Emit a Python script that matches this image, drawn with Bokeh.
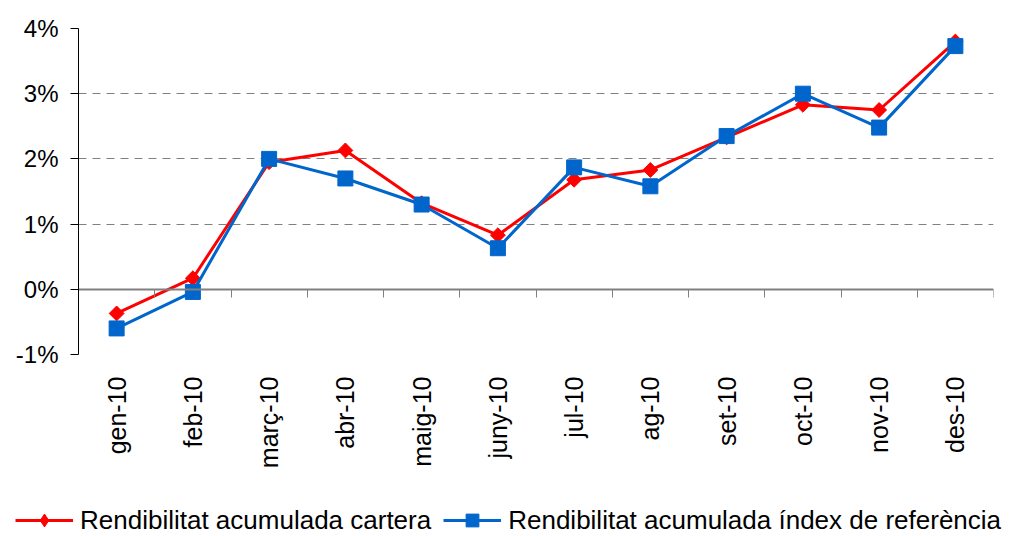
from math import pi
from bokeh.plotting import figure
from bokeh.layouts import column
from bokeh.models import (LinearAxis, FixedTicker, PrintfTickFormatter, Legend,
                          LegendItem)
from bokeh.embed import file_html
from bokeh.resources import INLINE

months = ["gen-10", "feb-10", "març-10", "abr-10", "maig-10", "juny-10",
          "jul-10", "ag-10", "set-10", "oct-10", "nov-10", "des-10"]
cartera = [-0.37, 0.17, 1.95, 2.13, 1.32, 0.83, 1.68, 1.83, 2.33, 2.83, 2.75, 3.80]
referencia = [-0.60, -0.04, 2.00, 1.70, 1.30, 0.63, 1.87, 1.58, 2.35, 3.00, 2.48, 3.73]
y_ticks = [-1, 0, 1, 2, 3, 4]
label_cartera = "Rendibilitat acumulada cartera"
label_ref = "Rendibilitat acumulada índex de referència"

n = len(months)
xs = [i + 0.5 for i in range(n)]
FONT = "Liberation Sans"
RED = "#FF0000"
BLUE = "#0066CC"

p = figure(frame_width=915, frame_height=326, x_range=(0, n),
           y_range=(min(y_ticks), max(y_ticks)),
           output_backend="svg", toolbar_location=None,
           x_axis_location=None,
           min_border_left=78, min_border_top=28, min_border_right=15,
           min_border_bottom=126)
p.outline_line_color = None
p.background_fill_color = "white"
p.xgrid.visible = False

# y axis
p.yaxis.ticker = FixedTicker(ticks=y_ticks)
p.yaxis.formatter = PrintfTickFormatter(format="%d%%")
p.yaxis.major_label_text_font = FONT
p.yaxis.major_label_text_font_size = "24px"
p.yaxis.major_label_text_color = "black"
p.yaxis.axis_line_color = "black"
p.yaxis.axis_line_width = 1
p.yaxis.major_tick_line_color = "black"
p.yaxis.major_tick_out = 8
p.yaxis.major_tick_in = 0
p.yaxis.minor_tick_line_color = None
p.yaxis.major_label_standoff = 12

p.ygrid.ticker = FixedTicker(ticks=y_ticks)
p.ygrid.grid_line_color = "#808080"
p.ygrid.grid_line_dash = "8 6"
p.ygrid.grid_line_width = 1

# category labels axis
label_axis = LinearAxis(
    ticker=FixedTicker(ticks=xs),
    major_label_overrides={x: m for x, m in zip(xs, months)},
    major_label_orientation=pi / 2,
    axis_line_color=None, major_tick_line_color=None, minor_tick_line_color=None,
    major_label_standoff=16,
    major_label_text_font=FONT, major_label_text_font_size="25px",
    major_label_text_color="black")
p.add_layout(label_axis, "below")

# zero axis line with boundary ticks (ticks point down into the plot)
zero_axis = LinearAxis(
    fixed_location=0,
    ticker=FixedTicker(ticks=list(range(n + 1))),
    major_label_overrides={t: "" for t in range(n + 1)},
    major_label_text_font_size="1px",
    axis_line_color="#808080", axis_line_width=2,
    major_tick_line_color="#808080", major_tick_line_width=1,
    major_tick_out=0, major_tick_in=8,
    major_label_standoff=0,
    minor_tick_line_color=None)
p.add_layout(zero_axis, "above")

p.line(xs, cartera, line_color=RED, line_width=3)
p.scatter(xs, cartera, marker="square", angle=pi / 4, size=10.5,
          fill_color=RED, line_color=RED)
p.line(xs, referencia, line_color=BLUE, line_width=3)
p.scatter(xs, referencia, marker="square", size=15,
          fill_color=BLUE, line_color=BLUE)

# legend strip below the chart (series drawn off-view, used only as legend keys)
leg = figure(width=1008, height=56, x_range=(-100, -99), y_range=(-100, -99),
             output_backend="svg", toolbar_location=None,
             x_axis_location=None, y_axis_location=None, min_border=0)
leg.outline_line_color = None
leg.xgrid.visible = False
leg.ygrid.visible = False
if "frame_align" in leg.properties():
    leg.frame_align = False
    p.frame_align = False
k1 = leg.line(xs, cartera, line_color=RED, line_width=3)
m1 = leg.scatter(xs, cartera, marker="diamond", size=17,
                 fill_color=RED, line_color=RED)
k2 = leg.line(xs, referencia, line_color=BLUE, line_width=3)
m2 = leg.scatter(xs, referencia, marker="square", size=13,
                 fill_color=BLUE, line_color=BLUE)

legend = Legend(items=[LegendItem(label=label_cartera, renderers=[k1, m1]),
                       LegendItem(label=label_ref, renderers=[k2, m2])],
                orientation="horizontal", location=(15, 0),
                label_text_font=FONT, label_text_font_size="26px",
                label_text_color="black",
                glyph_width=58, glyph_height=32, label_standoff=7,
                spacing=12, padding=0, margin=0,
                border_line_alpha=0, background_fill_alpha=0)
leg.add_layout(legend, "center")

layout = column(p, leg, spacing=0)
open("out.html", "w").write(file_html(layout, INLINE))
